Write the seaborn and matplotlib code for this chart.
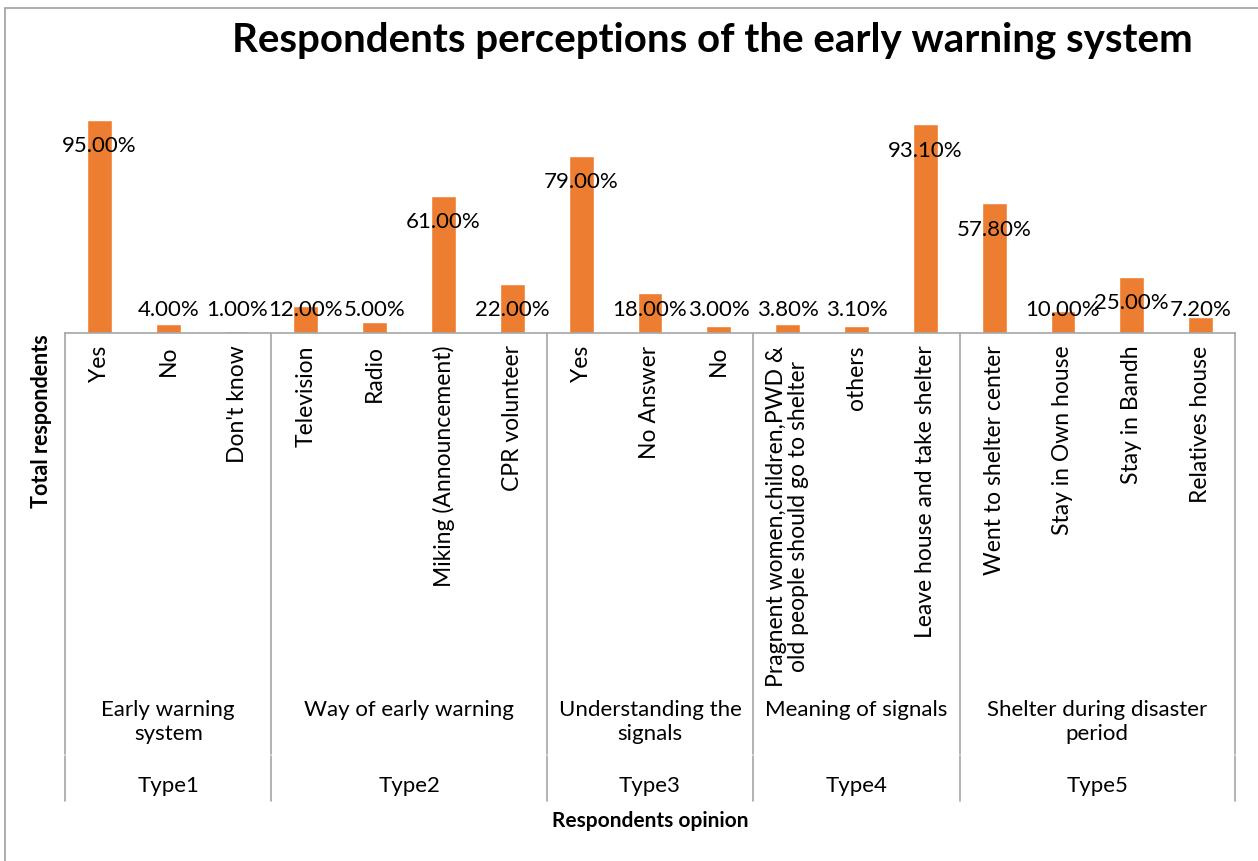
import matplotlib
matplotlib.use('Agg')
import matplotlib.pyplot as plt
import matplotlib.transforms as mtransforms
from matplotlib.patches import Rectangle
import pandas as pd
import seaborn as sns

# --- data ---
group_types = ['Type1', 'Type2', 'Type3', 'Type4', 'Type5']
group_names = ['Early warning\nsystem', 'Way of early warning', 'Understanding the\nsignals',
               'Meaning of signals', 'Shelter during disaster\nperiod']
group_sizes = [3, 4, 3, 3, 4]
options = ['Yes', 'No', "Don't know",
           'Television', 'Radio', 'Miking (Announcement)', 'CPR volunteer',
           'Yes', 'No Answer', 'No',
           'Pragnent women,children,PWD &\nold people should go to shelter', 'others',
           'Leave house and take shelter',
           'Went to shelter center', 'Stay in Own house', 'Stay in Bandh', 'Relatives house']
percent = [95.0, 4.0, 1.0,
           12.0, 5.0, 61.0, 22.0,
           79.0, 18.0, 3.0,
           3.8, 3.1, 93.1,
           57.8, 10.0, 25.0, 7.2]

ORANGE = '#ED7D31'
GREY = '#A6A6A6'
FONT = 'Lato'

W, H = 1258, 861
def fy(px):
    return 1 - px / H

groups = [t for t, n in zip(group_types, group_sizes) for _ in range(n)]
df = pd.DataFrame({'key': [f'{g}|{i}' for i, g in enumerate(groups)],
                   'option': options, 'percent': percent})

sns.set_style('white')
plt.rcParams['font.family'] = [FONT, 'DejaVu Sans']
plt.rcParams['text.color'] = 'black'
plt.rcParams['xtick.color'] = 'black'

fig = plt.figure(figsize=(W / 100, H / 100), dpi=100)
ax = fig.add_axes([65 / W, fy(333), (1235 - 65) / W, (333 - 108.8) / H])

sns.barplot(data=df, x='key', y='percent', color=ORANGE, width=0.36,
            saturation=1, ax=ax, order=df['key'])
ax.set_ylim(0, 100)
ax.set_xlim(-0.5, len(df) - 0.5)

# data labels: Excel pushed them just under the bar top, floor above the axis
for i, v in enumerate(df['percent']):
    ax.text(i, max(v - 11.7, 10.3), f'{v:.2f}%', ha='center', va='center',
            fontsize=16, color='black')

ax.set_xticks(range(len(df)))
ax.set_xticklabels(df['option'], rotation=90, fontsize=16.5, va='top', ha='center',
                   multialignment='center', linespacing=1.1)
ax.tick_params(axis='x', length=0, pad=9, labelcolor='black')
ax.set_yticks([])
ax.set_xlabel('')
ax.set_ylabel('')
for s in ['left', 'top', 'right']:
    ax.spines[s].set_visible(False)
ax.spines['bottom'].set_color(GREY)
ax.spines['bottom'].set_linewidth(1.2)

# multi-level category axis: separators and group labels
trans = mtransforms.blended_transform_factory(ax.transData, fig.transFigure)
bounds = [-0.5]
for n in group_sizes:
    bounds.append(bounds[-1] + n)
for b in bounds:
    ax.plot([b, b], [fy(333), fy(754)], color=GREY, lw=1.2, transform=trans, clip_on=False)
    ax.plot([b, b], [fy(756), fy(801)], color=GREY, lw=1.2, transform=trans, clip_on=False)
for k, (t, name) in enumerate(zip(group_types, group_names)):
    cx = (bounds[k] + bounds[k + 1]) / 2
    ax.text(cx, fy(700), name, ha='center', va='top', fontsize=16, linespacing=1.25,
            transform=trans)
    ax.text(cx, fy(786), t, ha='center', va='center', fontsize=16, transform=trans)

fig.text(712 / W, fy(40), 'Respondents perceptions of the early warning system',
         ha='center', va='center', fontsize=29, fontweight='bold')
fig.text(650 / W, fy(821), 'Respondents opinion', ha='center', va='center',
         fontsize=15, fontweight='bold')
fig.text(42 / W, fy(421), 'Total respondents', ha='center', va='center', rotation=90,
         fontsize=15.5, fontweight='bold')

# chart area border (only left and top edges are inside the crop)
fig.add_artist(Rectangle((5 / W, -0.2), 2, 1.2 - 8 / H, transform=fig.transFigure,
                         fill=False, edgecolor='#A0A0A0', lw=1.2, clip_on=False))

fig.savefig('out.png', dpi=100)
